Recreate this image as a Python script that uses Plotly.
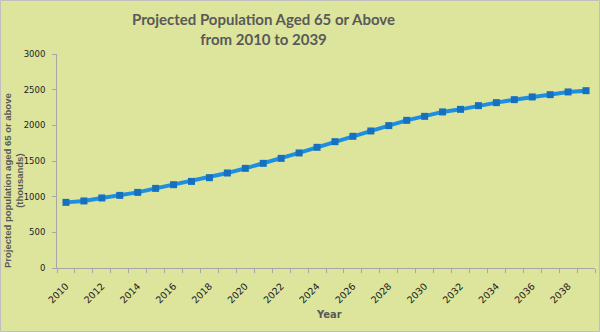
import plotly.graph_objects as go

years = list(range(2010, 2040))
population = [920, 940, 982, 1018, 1060, 1116, 1168, 1214, 1266, 1332,
              1397, 1467, 1537, 1613, 1692, 1771, 1846, 1921, 1996, 2070,
              2126, 2188, 2224, 2276, 2318, 2360, 2398, 2430, 2468, 2486]
label_years = list(range(2010, 2040, 2))
y_ticks = [0, 500, 1000, 1500, 2000, 2500, 3000]

W, H = 600, 332
L, R, T, B = 57, 5, 54, 64
pw = W - L - R
ph = H - T - B

bg = "#DDE59C"
gray = "#595959"

fig = go.Figure()
fig.add_trace(go.Scatter(
    x=years, y=population, mode="lines+markers",
    line=dict(color="#1E8FE0", width=4),
    marker=dict(symbol="square", size=7, color="#1670C2",
                line=dict(width=0)),
    showlegend=False, hoverinfo="x+y"))

fig.update_layout(
    width=W, height=H,
    margin=dict(l=L, r=R, t=T, b=B),
    paper_bgcolor=bg, plot_bgcolor=bg,
    font=dict(family="DejaVu Sans", size=9, color="#222222"),
    xaxis=dict(
        range=[2009.5, 2039.5], tickvals=label_years,
        ticktext=[str(v) for v in label_years],
        tickangle=-45, ticks="", showgrid=False, zeroline=False,
        showline=True, linecolor="#A6A6A6", linewidth=1,
        ticklabelstandoff=8,
        tickfont=dict(family="DejaVu Sans", size=9.5, color="#222222"),
        minor=dict(tick0=2009.5, dtick=1, ticks="outside", ticklen=4,
                   tickcolor="#A6A6A6", showgrid=False),
        fixedrange=True),
    yaxis=dict(
        range=[0, 3000], tickvals=y_ticks, ticks="outside", ticklen=4,
        tickcolor="#A6A6A6", showgrid=False, zeroline=False,
        showline=True, linecolor="#A6A6A6", linewidth=1,
        ticklabelstandoff=5,
        tickfont=dict(family="DejaVu Sans", size=8.5, color="#222222"),
        fixedrange=True),
)

fig.add_annotation(
    text="Projected Population Aged 65 or Above<br>from 2010 to 2039",
    xref="paper", yref="paper",
    x=(263 - L) / pw, y=(T + ph - 28.5) / ph,
    xanchor="center", yanchor="middle", showarrow=False,
    font=dict(family="Lato", size=15, color=gray, weight="bold"))

fig.add_annotation(
    text="Year", xref="paper", yref="paper",
    x=(329 - L) / pw, y=-(314 - (T + ph)) / ph,
    xanchor="center", yanchor="middle", showarrow=False,
    font=dict(family="DejaVu Sans", size=10, color=gray, weight="bold"))

fig.add_annotation(
    text="Projected population aged 65 or above<br>(thousands)",
    xref="paper", yref="paper",
    x=(13 - L) / pw, y=(T + ph - 181) / ph,
    xanchor="center", yanchor="middle", textangle=-90, showarrow=False,
    font=dict(family="Liberation Sans", size=9.5, color=gray, weight="bold"))

fig.add_shape(
    type="rect", xref="paper", yref="paper",
    x0=-(L - 0.5) / pw, x1=1 + (R - 0.5) / pw,
    y0=-(B - 0.5) / ph, y1=1 + (T - 0.5) / ph,
    line=dict(color="#BFBFBF", width=1), fillcolor="rgba(0,0,0,0)")

fig.write_html("out.html")
